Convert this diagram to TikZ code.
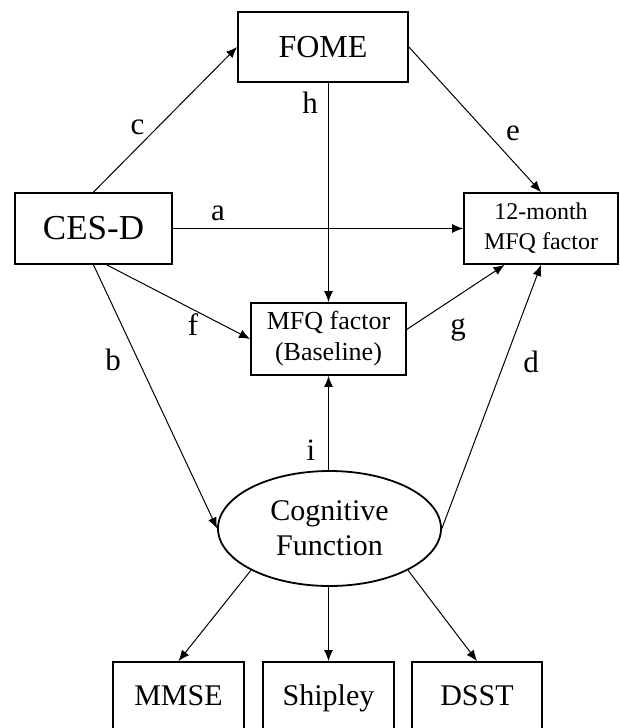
\documentclass[tikz,border=0pt]{standalone}
\usepackage{fontspec}
\setmainfont{Liberation Serif}
\usetikzlibrary{shapes.geometric,arrows.meta}

\begin{document}
\begin{tikzpicture}[x=0.5pt,y=-0.5pt,
  box/.style={draw,line width=0.9pt,align=center,inner sep=0pt},
  test/.style={box,minimum width=65.5pt,minimum height=36pt,text height=10.5pt,text depth=3.5pt,font=\fontsize{15}{18}\selectfont},
  link/.style={line width=0.5pt,-{Latex[length=5.5pt,width=4.5pt]}},
  lbl/.style={font=\fontsize{15.5}{18}\selectfont,inner sep=0pt}]

\useasboundingbox (0,0) rectangle (620,728);

% draw boxes
\node[box,minimum width=85pt,minimum height=35pt,font=\fontsize{16}{19}\selectfont] (fome) at (323,47) {FOME};
\node[box,minimum width=78.5pt,minimum height=35.5pt,font=\fontsize{17.5}{20}\selectfont] (cesd) at (93.5,228.5) {CES-D};
\node[box,minimum width=77pt,minimum height=35.5pt,font=\fontsize{12}{15}\selectfont] (mfq12) at (541,228.5) {12-month\\MFQ factor};
\node[box,minimum width=77.5pt,minimum height=36pt,font=\fontsize{13}{15.5}\selectfont] (base) at (328.5,339) {MFQ factor\\(Baseline)};
\node[box,ellipse,minimum width=111.5pt,minimum height=57.5pt,font=\fontsize{15}{17.5}\selectfont] (cog) at (329.5,528.5) {Cognitive\\Function};

% draw tests
\node[test] (mmse) at (178.5,698) {MMSE};
\node[test] (shipley) at (328.5,698) {Shipley};
\node[test,minimum width=65pt] (dsst) at (477,698) {DSST};

% draw paths
\draw[link] (cesd.east) -- (mfq12.west);
\draw[link] (cesd.north) -- (fome.west);
\draw[link] (fome.east) -- (mfq12.north);
\draw[link] (fome.south -| base.north) -- (base.north);
\draw[link] (cesd.-70) -- (base.west);
\draw[link] (cesd.south) -- (cog.west);
\draw[link] (base.7) -- (mfq12.225);
\draw[link] (cog.east) -- (mfq12.south);
\draw[link] (cog.north -| base.south) -- (base.south);

\draw[link] (cog.208) -- (mmse.north);
\draw[link] (cog.south -| shipley.north) -- (shipley.north);
\draw[link] (cog.-28) -- (dsst.north);

% draw labels
\node[lbl] (la) at (218,213) {a};
\node[lbl] (lb) at (113,360) {b};
\node[lbl] (lc) at (137.5,127) {c};
\node[lbl] (ld) at (531,362) {d};
\node[lbl] (le) at (513,133) {e};
\node[lbl] (lf) at (193,325) {f};
\node[lbl] (lg) at (458,330) {g};
\node[lbl] (lh) at (310,103) {h};
\node[lbl] (li) at (311,450) {i};

\end{tikzpicture}
\end{document}
